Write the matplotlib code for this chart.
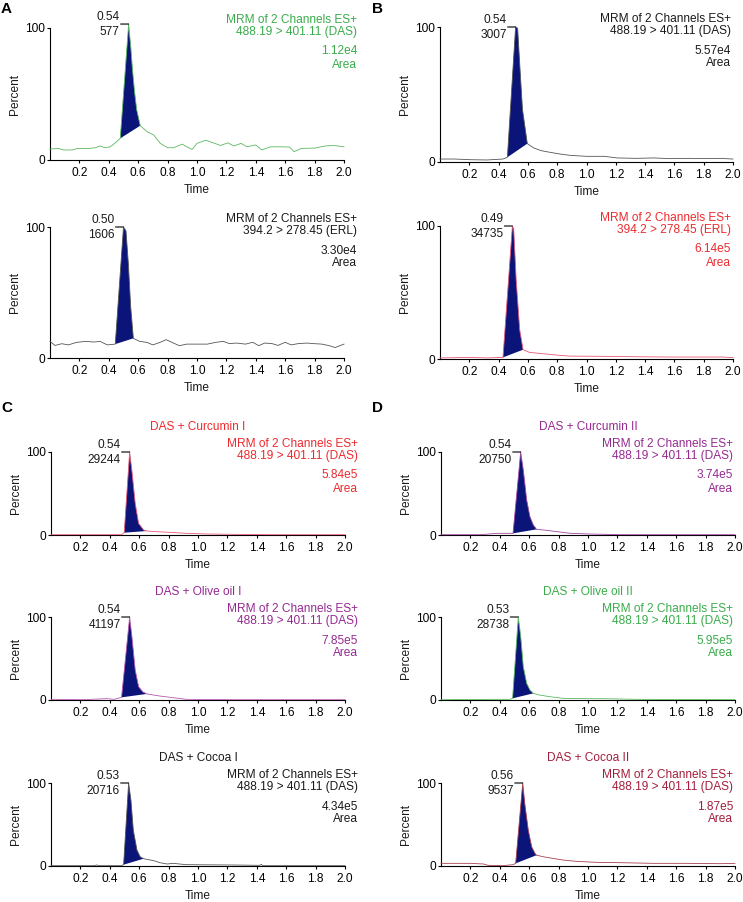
import matplotlib
matplotlib.use('Agg')
import matplotlib.pyplot as plt
import numpy as np

plt.rcParams['font.family'] = ['Liberation Sans', 'DejaVu Sans']

# ---------------- data ----------------
A1_t = [0.0, 0.057, 0.09, 0.15, 0.19, 0.25, 0.31, 0.34, 0.375, 0.41, 0.44, 0.478, 0.535, 0.55, 0.56,
        0.575, 0.59, 0.614, 0.66, 0.705, 0.75, 0.80, 0.84, 0.90, 0.93, 0.967, 1.0, 1.06, 1.11, 1.16,
        1.21, 1.25, 1.30, 1.34, 1.40, 1.44, 1.50, 1.57, 1.63, 1.66, 1.71, 1.80, 1.87, 1.93, 2.0]
A1_y = [8.3, 8.8, 7.6, 7.6, 8.8, 8.6, 9.3, 10.6, 9.3, 10, 12.6, 16.4, 103, 85, 70,
        52, 38, 26, 21.5, 19, 12.6, 9.3, 9.3, 12, 10, 8, 12.6, 15, 13, 11,
        13, 10.6, 12.6, 10, 11.4, 7.6, 10, 10, 9.8, 6.3, 8.8, 9, 10.6, 11, 10]
A1_peak = (0.478, 0.614)

A2_t = [0.0, 0.034, 0.08, 0.125, 0.18, 0.24, 0.30, 0.34, 0.39, 0.444, 0.50, 0.517, 0.533, 0.549, 0.567,
        0.61, 0.66, 0.70, 0.75, 0.79, 0.84, 0.88, 0.93, 1.0, 1.07, 1.13, 1.18, 1.22, 1.27, 1.33,
        1.38, 1.42, 1.46, 1.51, 1.55, 1.60, 1.64, 1.69, 1.75, 1.79, 1.85, 1.90, 1.94, 2.0]
A2_y = [12.7, 9.6, 10.9, 10, 11.9, 12.7, 12.2, 12.7, 10, 10.6, 100, 97, 72, 39, 15,
        12.7, 11.9, 10, 12, 14, 11.4, 9.4, 10.6, 10.6, 10.6, 12, 12.7, 11, 11.4, 10.6,
        12, 9.4, 11.4, 11, 9.6, 12, 10, 11, 11.4, 11, 10.6, 9.4, 8, 10.6]
A2_peak = (0.444, 0.567)

B1_t = [0.0, 0.1, 0.21, 0.32, 0.43, 0.46, 0.516, 0.53, 0.545, 0.563, 0.596, 0.64, 0.69, 0.75, 0.82,
        0.89, 1.0, 1.12, 1.21, 1.34, 1.46, 1.57, 1.7, 1.8, 1.91, 2.0]
B1_y = [2.2, 2.2, 1.7, 1.5, 2.2, 3.5, 100, 99, 71, 39, 13.6, 10.4, 8.4, 7.2, 5.9,
        4.9, 4.2, 4.2, 3.0, 2.7, 3.0, 2.5, 2.7, 2.5, 2.7, 2.2]
B1_peak = (0.46, 0.596)

B2_t = [0.0, 0.2, 0.32, 0.43, 0.494, 0.503, 0.52, 0.544, 0.567, 0.61, 0.70, 0.79, 0.88, 1.11, 1.34,
        1.56, 1.79, 1.93, 2.0]
B2_y = [0.8, 1.2, 0.8, 1.2, 100, 98, 59.5, 22, 7, 5, 4, 3, 2.2, 2, 1.7, 1.5, 1.5, 1.5, 1.0]
B2_peak = (0.43, 0.567)

C1_t = [0.0, 0.33, 0.48, 0.498, 0.535, 0.55, 0.573, 0.596, 0.63, 0.652, 0.72, 0.81, 0.92, 1.06, 1.24, 1.47, 2.0]
C1_y = [0.4, 0.4, 0.4, 2.8, 100, 78, 38, 14, 6, 4.8, 4, 3.2, 2, 1.2, 0.8, 0.4, 0.4]
C1_peak = (0.498, 0.652)

C2_t = [0.0, 0.22, 0.38, 0.43, 0.48, 0.535, 0.55, 0.573, 0.596, 0.625, 0.652, 0.74, 0.83, 0.92, 1.24, 2.0]
C2_y = [0.8, 0.4, 1.6, 0.8, 3.2, 100, 77, 36, 16, 9.7, 7.3, 4.8, 2.8, 0.8, 0.4, 0.4]
C2_peak = (0.48, 0.652)

C3_t = [0.0, 0.29, 0.31, 0.33, 0.48, 0.494, 0.528, 0.544, 0.56, 0.585, 0.607, 0.63, 0.70, 0.74, 0.79,
        0.83, 0.92, 1.24, 1.42, 1.43, 1.44, 2.0]
C3_y = [0.4, 0.4, 1.2, 0.4, 0.4, 1.6, 100, 79, 43, 19, 11, 8.8, 6.4, 4, 2.4,
        3.2, 1.6, 1.2, 0.8, 2.0, 0.4, 0.4]
C3_peak = (0.494, 0.63)

D1_t = [0.0, 0.27, 0.38, 0.47, 0.49, 0.542, 0.56, 0.583, 0.605, 0.628, 0.65, 0.70, 0.79, 0.88, 1.01, 1.22, 2.0]
D1_y = [0.4, 0.4, 2, 2, 2, 100, 78, 42, 22, 12, 6.8, 6, 4, 2, 1.2, 0.4, 0.4]
D1_peak = (0.49, 0.65)

D2_t = [0.0, 0.38, 0.47, 0.487, 0.526, 0.542, 0.56, 0.583, 0.605, 0.628, 0.67, 0.74, 0.83, 0.99, 1.10, 1.33, 2.0]
D2_y = [0.4, 0.8, 0.8, 2, 100, 77, 40, 20, 12, 8, 6, 4, 2, 1.6, 1.6, 0.8, 0.4]
D2_peak = (0.487, 0.628)

D3_t = [0.0, 0.2, 0.29, 0.32, 0.42, 0.49, 0.508, 0.556, 0.57, 0.594, 0.617, 0.64, 0.65, 0.70, 0.76,
        0.83, 0.92, 1.06, 1.22, 1.44, 1.67, 1.90, 2.0]
D3_y = [3.2, 3.2, 2.4, 0.8, 0.4, 1.6, 3.2, 100, 75, 43, 23, 15, 13, 11, 9.2,
        7.2, 5.6, 4.4, 4, 3.2, 3.2, 2.8, 3.2]
D3_peak = (0.508, 0.65)

peak_rt = ["0.54", "0.50", "0.54", "0.49", "0.54", "0.54", "0.53", "0.54", "0.53", "0.56"]
peak_height = ["577", "1606", "3007", "34735", "29244", "41197", "20716", "20750", "28738", "9537"]
channels = ["488.19 > 401.11 (DAS)", "394.2 > 278.45 (ERL)", "488.19 > 401.11 (DAS)",
            "394.2 > 278.45 (ERL)", "488.19 > 401.11 (DAS)", "488.19 > 401.11 (DAS)",
            "488.19 > 401.11 (DAS)", "488.19 > 401.11 (DAS)", "488.19 > 401.11 (DAS)",
            "488.19 > 401.11 (DAS)"]
areas = ["1.12e4", "3.30e4", "5.57e4", "6.14e5", "5.84e5", "7.85e5", "4.34e5", "3.74e5", "5.95e5", "1.87e5"]
titles = ["", "", "", "", "DAS + Curcumin I", "DAS + Olive oil I", "DAS + Cocoa I",
          "DAS + Curcumin II", "DAS + Olive oil II", "DAS + Cocoa II"]
x_ticks = [0.2, 0.4, 0.6, 0.8, 1.0, 1.2, 1.4, 1.6, 1.8, 2.0]
y_ticks = [0, 100]
panel_letters = ["A", "B", "C", "D"]

# ---------------- styling ----------------
GREEN = '#3aac4b'
RED = '#ec2a2f'
PURPLE = '#962a92'
DARKRED = '#a31e3c'
BLACK = '#1a1a1a'
FILL = '#0b1478'

text_colors = [GREEN, BLACK, BLACK, RED, RED, PURPLE, BLACK, PURPLE, GREEN, DARKRED]
trace_colors = ['#5cb860', '#555555', '#555555', '#e85a78', '#e85a78', '#b85aac', '#555555',
                '#a048a0', '#5cb860', '#a8404f']

series = [(A1_t, A1_y, A1_peak), (A2_t, A2_y, A2_peak), (B1_t, B1_y, B1_peak), (B2_t, B2_y, B2_peak),
          (C1_t, C1_y, C1_peak), (C2_t, C2_y, C2_peak), (C3_t, C3_y, C3_peak),
          (D1_t, D1_y, D1_peak), (D2_t, D2_y, D2_peak), (D3_t, D3_y, D3_peak)]

# axes boxes in pixels: left, top(100), right, bottom(0)
boxes = [(50, 28, 344, 160), (50, 227, 344, 358),
         (440, 27, 733, 162), (440, 226, 733, 359),
         (51, 452, 345, 535), (51, 617, 345, 700), (51, 783, 345, 866),
         (441, 452, 735, 535), (441, 617, 735, 700), (441, 783, 735, 866)]
header_dx = [13, 13, -2, -2, 13, 13, 13, -2, -2, -2]

W, H, DPI = 743, 902, 100
fig = plt.figure(figsize=(W / DPI, H / DPI), dpi=DPI)
FS = 8.6

for i, ((t, y, pk), box) in enumerate(zip(series, boxes)):
    t = np.asarray(t, float)
    y = np.asarray(y, float)
    l, tp, r, b = box
    ax = fig.add_axes([l / W, 1 - b / H, (r - l) / W, (b - tp) / H])
    ax.set_xlim(0, 2.0)
    ax.set_ylim(0, 100)
    for s in ['top', 'right']:
        ax.spines[s].set_visible(False)
    for s in ['left', 'bottom']:
        ax.spines[s].set_linewidth(0.8)
        ax.spines[s].set_color('black')
    ax.set_xticks(x_ticks)
    ax.set_xticklabels([f"{v:.1f}" for v in x_ticks])
    ax.set_yticks(y_ticks)
    ax.set_yticklabels([str(v) for v in y_ticks])
    ax.tick_params(axis='both', length=2.2, width=0.8, labelsize=FS, color='black')
    ax.tick_params(axis='x', pad=2.5)
    ax.tick_params(axis='y', pad=1.5)
    ax.patch.set_alpha(0)

    mask = (t >= pk[0] - 1e-9) & (t <= pk[1] + 1e-9)
    ax.fill(t[mask], y[mask], color=FILL, lw=0, clip_on=False, zorder=2)
    ax.plot(t, y, color=trace_colors[i], lw=0.6, clip_on=False, zorder=3)

    ip = int(np.argmax(y))
    ax.annotate('', xy=(t[ip], y[ip]), xytext=(-8, 0), textcoords='offset pixels',
                annotation_clip=False,
                arrowprops=dict(arrowstyle='-', lw=0.8, color='black', shrinkA=0, shrinkB=0))
    ax.annotate(peak_rt[i], xy=(t[ip], y[ip]), xytext=(-9, 1), textcoords='offset pixels',
                ha='right', va='bottom', fontsize=FS, color=BLACK, annotation_clip=False)
    ax.annotate(peak_height[i], xy=(t[ip], y[ip]), xytext=(-9, -2), textcoords='offset pixels',
                ha='right', va='top', fontsize=FS, color=BLACK, annotation_clip=False)

    col = text_colors[i]
    lines = ["MRM of 2 Channels ES+", channels[i], areas[i], "Area"]
    offs = [8, -4, -23.5, -36.5]
    for txt, dy in zip(lines, offs):
        ax.annotate(txt, xy=(1.0, 1.0), xycoords='axes fraction', xytext=(header_dx[i], dy),
                    textcoords='offset pixels', ha='right', va='center', fontsize=FS, color=col)
    if titles[i]:
        ax.annotate(titles[i], xy=(0.5, 1.0), xycoords='axes fraction', xytext=(0, 25),
                    textcoords='offset pixels', ha='center', va='center', fontsize=FS, color=col)
    ax.annotate("Percent", xy=(0, 0.5), xycoords='axes fraction', xytext=(-35, 0),
                textcoords='offset pixels', ha='center', va='center', rotation=90,
                fontsize=FS, color=BLACK)
    ax.annotate("Time", xy=(0.5, 0), xycoords='axes fraction', xytext=(0, -30),
                textcoords='offset pixels', ha='center', va='center', fontsize=FS, color=BLACK)

letter_pos = [(1, 2), (372, 2), (1, 401), (372, 401)]
for lt, (x, yv) in zip(panel_letters, letter_pos):
    fig.text(x / W, 1 - yv / H, lt, ha='left', va='top', fontsize=11, fontweight='bold', color='black')

fig.savefig('out.png', dpi=DPI)
